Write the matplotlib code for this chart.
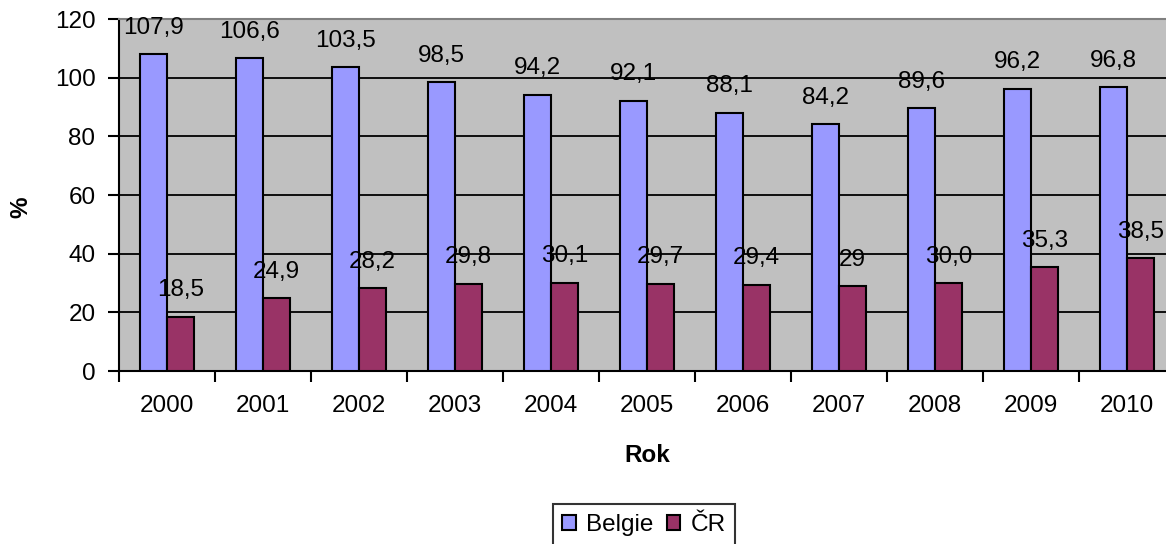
import numpy as np
import matplotlib
matplotlib.use("Agg")
import matplotlib.pyplot as plt
from matplotlib.patches import Patch

plt.rcParams['font.family'] = ['Liberation Sans', 'DejaVu Sans']

years = ["2000", "2001", "2002", "2003", "2004", "2005", "2006", "2007", "2008", "2009", "2010"]
belgie = [107.9, 106.6, 103.5, 98.5, 94.2, 92.1, 88.1, 84.2, 89.6, 96.2, 96.8]
cr = [18.5, 24.9, 28.2, 29.8, 30.1, 29.7, 29.4, 29.0, 30.0, 35.3, 38.5]
belgie_labels = ["107,9", "106,6", "103,5", "98,5", "94,2", "92,1", "88,1", "84,2", "89,6", "96,2", "96,8"]
cr_labels = ["18,5", "24,9", "28,2", "29,8", "30,1", "29,7", "29,4", "29", "30,0", "35,3", "38,5"]

W, H = 1166, 544
fig = plt.figure(figsize=(W / 100, H / 100), dpi=100)
# plot area runs past the right edge, like the cropped original
ax = fig.add_axes([119 / W, 1 - 371 / H, 1056 / W, 352 / H])
ax.set_facecolor("#C0C0C0")

x = np.arange(len(years))
bw = 0.28
fs = 17.5

ax.bar(x - bw / 2, belgie, bw, color="#9999FF", edgecolor="black", linewidth=1.5, zorder=3)
ax.bar(x + bw / 2, cr, bw, color="#993366", edgecolor="black", linewidth=1.5, zorder=3)

for xi, v, s in zip(x, belgie, belgie_labels):
    ax.text(xi - bw / 2, v + 9, s, ha="center", va="center", fontsize=fs, zorder=4)
for xi, v, s in zip(x, cr, cr_labels):
    ax.text(xi + bw / 2, v + 9, s, ha="center", va="center", fontsize=fs, zorder=4)

ax.set_xlim(-0.5, len(years) - 0.5)
ax.set_ylim(0, 120)
ax.set_yticks(np.arange(0, 121, 20))
ax.yaxis.grid(True, color="black", linewidth=1.3, zorder=1)
ax.set_axisbelow(True)

ax.set_xticks(np.arange(-0.5, len(years), 1))
ax.set_xticklabels([])
ax.set_xticks(x, minor=True)
ax.set_xticklabels(years, minor=True)
ax.tick_params(axis="x", which="major", length=8, width=1.5, direction="out")
ax.tick_params(axis="x", which="minor", length=0, pad=17, labelsize=fs)
ax.tick_params(axis="y", length=8, width=1.5, direction="out", pad=9, labelsize=fs)

for side in ["left", "bottom"]:
    ax.spines[side].set_color("black")
    ax.spines[side].set_linewidth(1.5)
ax.spines["top"].set_color("#808080")
ax.spines["top"].set_linewidth(1.5)
ax.spines["right"].set_visible(False)

fig.text(647 / W, 1 - 455 / H, "Rok", ha="center", va="center", fontsize=fs, fontweight="bold")
fig.text(21 / W, 1 - 207 / H, "%", ha="center", va="center", fontsize=fs, fontweight="bold", rotation=90)

handles = [Patch(facecolor="#9999FF", edgecolor="black", linewidth=1.5, label="Belgie"),
           Patch(facecolor="#993366", edgecolor="black", linewidth=1.5, label="ČR")]
leg = fig.legend(handles=handles, loc="center", bbox_to_anchor=(644 / W, 1 - 525 / H), ncol=2,
                 fontsize=fs, frameon=True, fancybox=False, handlelength=0.55, handleheight=0.55,
                 handletextpad=0.42, columnspacing=0.55, borderpad=0.4, borderaxespad=0)
leg.get_frame().set_edgecolor("black")
leg.get_frame().set_linewidth(1.5)

fig.savefig("out.png", dpi=100)
